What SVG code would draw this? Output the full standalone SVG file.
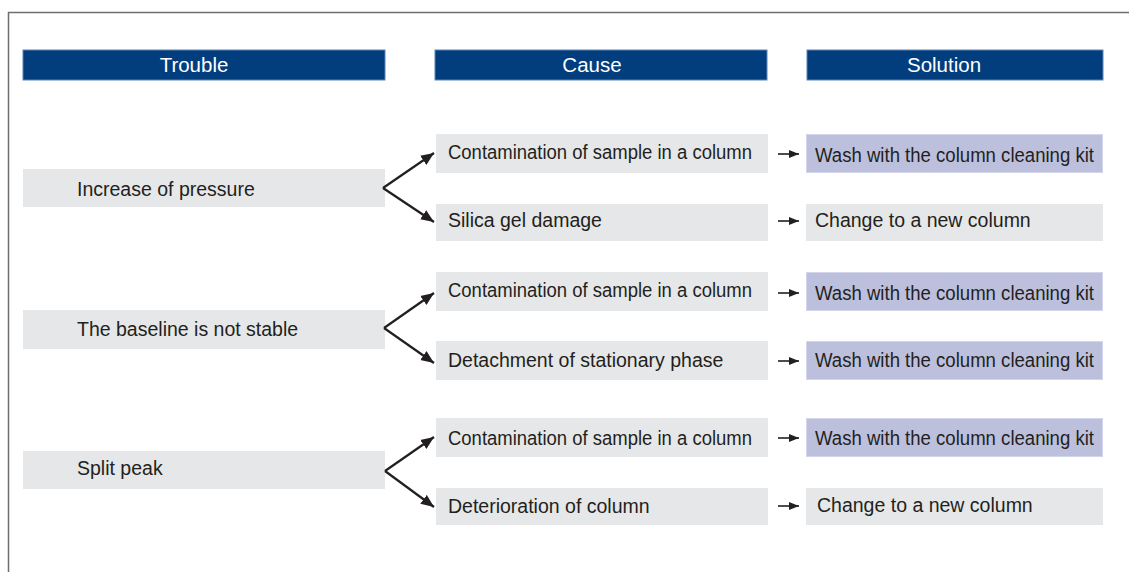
<svg xmlns="http://www.w3.org/2000/svg" width="1129" height="572" viewBox="0 0 1129 572">
<style>
.hdr{fill:#023d7d;stroke:#5b86b8;stroke-width:1}
.hdrt{font-family:"Liberation Sans",Arial,sans-serif;font-size:20.5px;fill:#ffffff;text-anchor:middle}
.box{fill:#e6e7e8}
.sol{fill:#bcc0dd;stroke:#d3d6ea;stroke-width:1}
.t{font-family:"Liberation Sans",Arial,sans-serif;font-size:19.5px;fill:#231f20}
.br{fill:none;stroke:#231f20;stroke-width:2.2;marker-end:url(#ah)}
.sm{fill:none;stroke:#231f20;stroke-width:1.6;marker-end:url(#as)}
</style>
<defs>
<marker id="ah" markerUnits="userSpaceOnUse" markerWidth="14" markerHeight="12" refX="13" refY="6" orient="auto">
<path d="M0,0.5 L13,6 L0,11.5 z" fill="#231f20"/>
</marker>
<marker id="as" markerUnits="userSpaceOnUse" markerWidth="12" markerHeight="10" refX="10" refY="5" orient="auto">
<path d="M0,1 L10,5 L0,9 z" fill="#231f20"/>
</marker>
</defs>
<rect width="1129" height="572" fill="#ffffff"/>
<path d="M8.5,572 V12.5 H1129" fill="none" stroke="#6d6e71" stroke-width="1.5"/>

<g id="header-trouble"><rect class="hdr" x="23" y="50" width="362" height="30"/><text class="hdrt" x="194" y="72">Trouble</text></g>
<g id="header-cause"><rect class="hdr" x="435" y="50" width="332" height="30"/><text class="hdrt" x="592" y="72">Cause</text></g>
<g id="header-solution"><rect class="hdr" x="807" y="50" width="296" height="30"/><text class="hdrt" x="944" y="72">Solution</text></g>

<g id="trouble-1"><rect class="box" x="23" y="169" width="362" height="38"/><text class="t" x="77" y="196">Increase of pressure</text></g>
<g id="trouble-2"><rect class="box" x="23" y="310" width="362" height="39"/><text class="t" x="77" y="336">The baseline is not stable</text></g>
<g id="trouble-3"><rect class="box" x="23" y="451" width="362" height="38"/><text class="t" x="77" y="475">Split peak</text></g>

<g id="cause-1"><rect class="box" x="436" y="134" width="332" height="39"/><text class="t" x="448" y="159" textLength="304" lengthAdjust="spacingAndGlyphs">Contamination of sample in a column</text></g>
<g id="cause-2"><rect class="box" x="436" y="204" width="332" height="37"/><text class="t" x="448" y="227">Silica gel damage</text></g>
<g id="cause-3"><rect class="box" x="436" y="272" width="332" height="39"/><text class="t" x="448" y="297" textLength="304" lengthAdjust="spacingAndGlyphs">Contamination of sample in a column</text></g>
<g id="cause-4"><rect class="box" x="436" y="341" width="332" height="39"/><text class="t" x="448" y="367">Detachment of stationary phase</text></g>
<g id="cause-5"><rect class="box" x="436" y="418" width="332" height="39"/><text class="t" x="448" y="445" textLength="304" lengthAdjust="spacingAndGlyphs">Contamination of sample in a column</text></g>
<g id="cause-6"><rect class="box" x="436" y="488" width="332" height="37"/><text class="t" x="448" y="513">Deterioration of column</text></g>

<g id="solution-1"><rect class="sol" x="806.5" y="134.5" width="296" height="38"/><text class="t" x="815" y="162" textLength="279" lengthAdjust="spacingAndGlyphs">Wash with the column cleaning kit</text></g>
<g id="solution-2"><rect class="box" x="806" y="204" width="297" height="37"/><text class="t" x="815" y="227">Change to a new column</text></g>
<g id="solution-3"><rect class="sol" x="806.5" y="272.5" width="296" height="38"/><text class="t" x="815" y="300" textLength="279" lengthAdjust="spacingAndGlyphs">Wash with the column cleaning kit</text></g>
<g id="solution-4"><rect class="sol" x="806.5" y="341.5" width="296" height="38"/><text class="t" x="815" y="367" textLength="279" lengthAdjust="spacingAndGlyphs">Wash with the column cleaning kit</text></g>
<g id="solution-5"><rect class="sol" x="806.5" y="418.5" width="296" height="38"/><text class="t" x="815" y="445" textLength="279" lengthAdjust="spacingAndGlyphs">Wash with the column cleaning kit</text></g>
<g id="solution-6"><rect class="box" x="806" y="488" width="297" height="37"/><text class="t" x="817" y="512">Change to a new column</text></g>

<g id="connectors">
<path class="br" d="M383,188 L434,153"/>
<path class="br" d="M383,188 L434,222"/>
<path class="br" d="M384,328 L434,293"/>
<path class="br" d="M384,328 L434,363"/>
<path class="br" d="M385,471 L434,437"/>
<path class="br" d="M385,471 L434,507"/>
<path class="sm" d="M778,154 H799"/>
<path class="sm" d="M778,221 H799"/>
<path class="sm" d="M778,293 H799"/>
<path class="sm" d="M778,361 H799"/>
<path class="sm" d="M778,438 H799"/>
<path class="sm" d="M778,506 H799"/>
</g>
</svg>
